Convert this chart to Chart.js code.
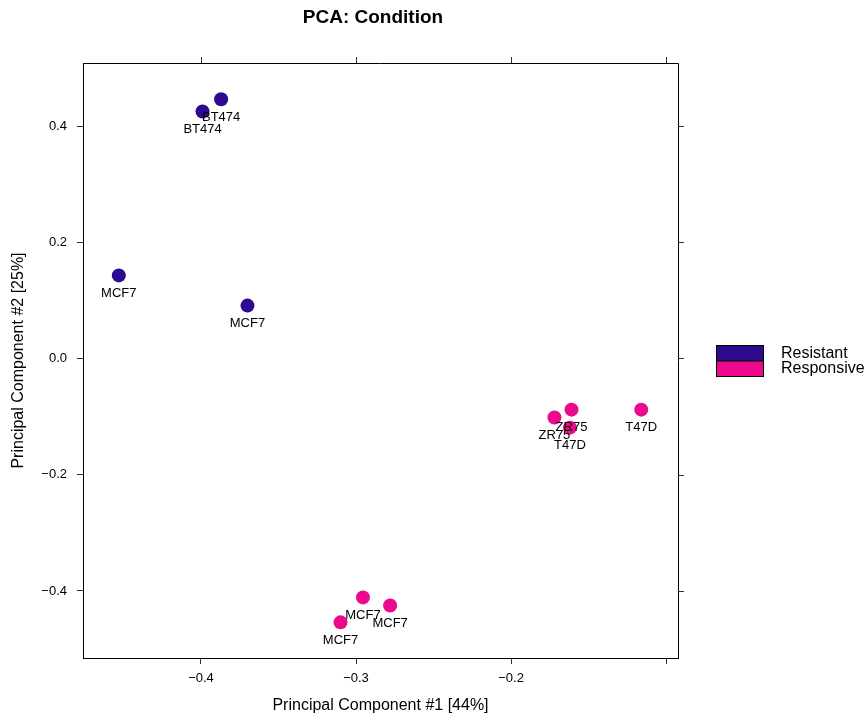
<!DOCTYPE html>
<html>
<head>
<meta charset="utf-8">
<script src="https://cdn.jsdelivr.net/npm/chart.js@4.4.0/dist/chart.umd.min.js"></script>
<style>
  html, body { margin: 0; padding: 0; background: #fff; }
</style>
</head>
<body>
<canvas id="myChart" width="867" height="715"></canvas>
<script>
// groups and their colours
const groups = ['Resistant', 'Responsive'];
const groupColors = ['#2E0A8F', '#EC0A8C'];

// Resistant samples
const resistantPC1 = [-0.387, -0.399, -0.453, -0.370];
const resistantPC2 = [0.446, 0.425, 0.143, 0.091];
const resistantNames = ['BT474', 'BT474', 'MCF7', 'MCF7'];

// Responsive samples
const responsivePC1 = [-0.172, -0.161, -0.162, -0.116, -0.2955, -0.278, -0.310];
const responsivePC2 = [-0.1015, -0.088, -0.119, -0.088, -0.411, -0.425, -0.454];
const responsiveNames = ['ZR75', 'ZR75', 'T47D', 'T47D', 'MCF7', 'MCF7', 'MCF7'];

// axis ticks
const xTicks = [-0.4, -0.3, -0.2, -0.1];
const xTickLabels = ['\u22120.4', '\u22120.3', '\u22120.2', ''];
const yTicks = [0.4, 0.2, 0.0, -0.2, -0.4];
const yTickLabels = ['0.4', '0.2', '0.0', '\u22120.2', '\u22120.4'];

const FONT = "'Liberation Sans', Arial, Helvetica, sans-serif";
Chart.defaults.font.family = FONT;
Chart.defaults.color = '#000';

function toPoints(xs, ys) {
  return xs.map((x, i) => ({ x: x, y: ys[i] }));
}

const sampleNames = [resistantNames, responsiveNames];

const boxPlugin = {
  id: 'latticeBits',
  afterDatasetsDraw(chart) {
    const ctx = chart.ctx;
    ctx.save();
    ctx.font = '13px ' + FONT;
    ctx.fillStyle = '#000';
    ctx.textAlign = 'center';
    ctx.textBaseline = 'middle';
    chart.data.datasets.forEach((ds, di) => {
      const meta = chart.getDatasetMeta(di);
      meta.data.forEach((pt, i) => {
        ctx.fillText(sampleNames[di][i], pt.x, pt.y + 18);
      });
    });
    ctx.restore();
  },
  afterDraw(chart) {
    const ctx = chart.ctx;
    const a = chart.chartArea;
    const xs = chart.scales.x, ys = chart.scales.y;
    ctx.save();
    // top and right sides of the box
    ctx.strokeStyle = '#000';
    ctx.lineWidth = 1;
    ctx.beginPath();
    ctx.moveTo(a.left, a.top + 0.5);
    ctx.lineTo(a.right + 0.5, a.top + 0.5);
    ctx.lineTo(a.right + 0.5, a.bottom);
    ctx.stroke();
    // ticks on top and right
    ctx.strokeStyle = '#333';
    ctx.beginPath();
    xTicks.forEach(v => {
      const px = Math.round(xs.getPixelForValue(v)) + 0.5;
      ctx.moveTo(px, a.top);
      ctx.lineTo(px, a.top - 6);
    });
    yTicks.forEach(v => {
      const py = Math.round(ys.getPixelForValue(v)) + 0.5;
      ctx.moveTo(a.right, py);
      ctx.lineTo(a.right + 6, py);
    });
    ctx.stroke();
    // title
    ctx.fillStyle = '#000';
    ctx.font = 'bold 19px ' + FONT;
    ctx.textAlign = 'center';
    ctx.textBaseline = 'middle';
    ctx.fillText('PCA: Condition', 373, 18);
    // legend
    ctx.font = '16px ' + FONT;
    ctx.textAlign = 'left';
    groups.forEach((g, i) => {
      const y = 345.5 + i * 15.5;
      ctx.fillStyle = groupColors[i];
      ctx.fillRect(716.5, y, 47, 15.5);
      ctx.strokeStyle = '#000';
      ctx.strokeRect(716.5, y, 47, 15.5);
      ctx.fillStyle = '#000';
      ctx.fillText(g, 781, y + 8);
    });
    ctx.restore();
  }
};

const ctx = document.getElementById('myChart');

new Chart(ctx, {
  type: 'scatter',
  data: {
    datasets: [
      {
        label: groups[0],
        data: toPoints(resistantPC1, resistantPC2),
        backgroundColor: groupColors[0],
        borderWidth: 0,
        pointRadius: 7,
        pointHoverRadius: 7
      },
      {
        label: groups[1],
        data: toPoints(responsivePC1, responsivePC2),
        backgroundColor: groupColors[1],
        borderWidth: 0,
        pointRadius: 7,
        pointHoverRadius: 7
      }
    ]
  },
  options: {
    responsive: false,
    animation: false,
    layout: { padding: { top: 63, right: 189, bottom: 0, left: 0 } },
    plugins: {
      legend: { display: false },
      title: { display: false },
      tooltip: { enabled: false }
    },
    scales: {
      x: {
        type: 'linear',
        position: 'bottom',
        min: -0.4761,
        max: -0.0923,
        afterBuildTicks: s => { s.ticks = xTicks.map(v => ({ value: v })); },
        afterFit: s => { s.height = 57; },
        ticks: {
          font: { size: 13 },
          color: '#000',
          padding: 7,
          maxRotation: 0,
          callback: (v, i) => xTickLabels[i]
        },
        grid: { display: true, drawOnChartArea: false, drawTicks: true, tickLength: 6, color: '#333' },
        border: { display: true, color: '#000', width: 1 },
        title: {
          display: true,
          text: 'Principal Component #1 [44%]',
          font: { size: 16 },
          color: '#000',
          padding: { top: 0, bottom: 0 }
        }
      },
      y: {
        type: 'linear',
        position: 'left',
        min: -0.5153,
        max: 0.5084,
        afterBuildTicks: s => { s.ticks = yTicks.map(v => ({ value: v })); },
        afterFit: s => { s.width = 83; },
        ticks: {
          font: { size: 13 },
          color: '#000',
          padding: 10,
          callback: (v, i) => yTickLabels[i]
        },
        grid: { display: true, drawOnChartArea: false, drawTicks: true, tickLength: 6, color: '#333' },
        border: { display: true, color: '#000', width: 1 },
        title: {
          display: true,
          text: 'Principal Component #2 [25%]',
          font: { size: 16 },
          color: '#000',
          padding: { top: 9, bottom: 0 }
        }
      }
    }
  },
  plugins: [boxPlugin]
});
</script>
</body>
</html>
